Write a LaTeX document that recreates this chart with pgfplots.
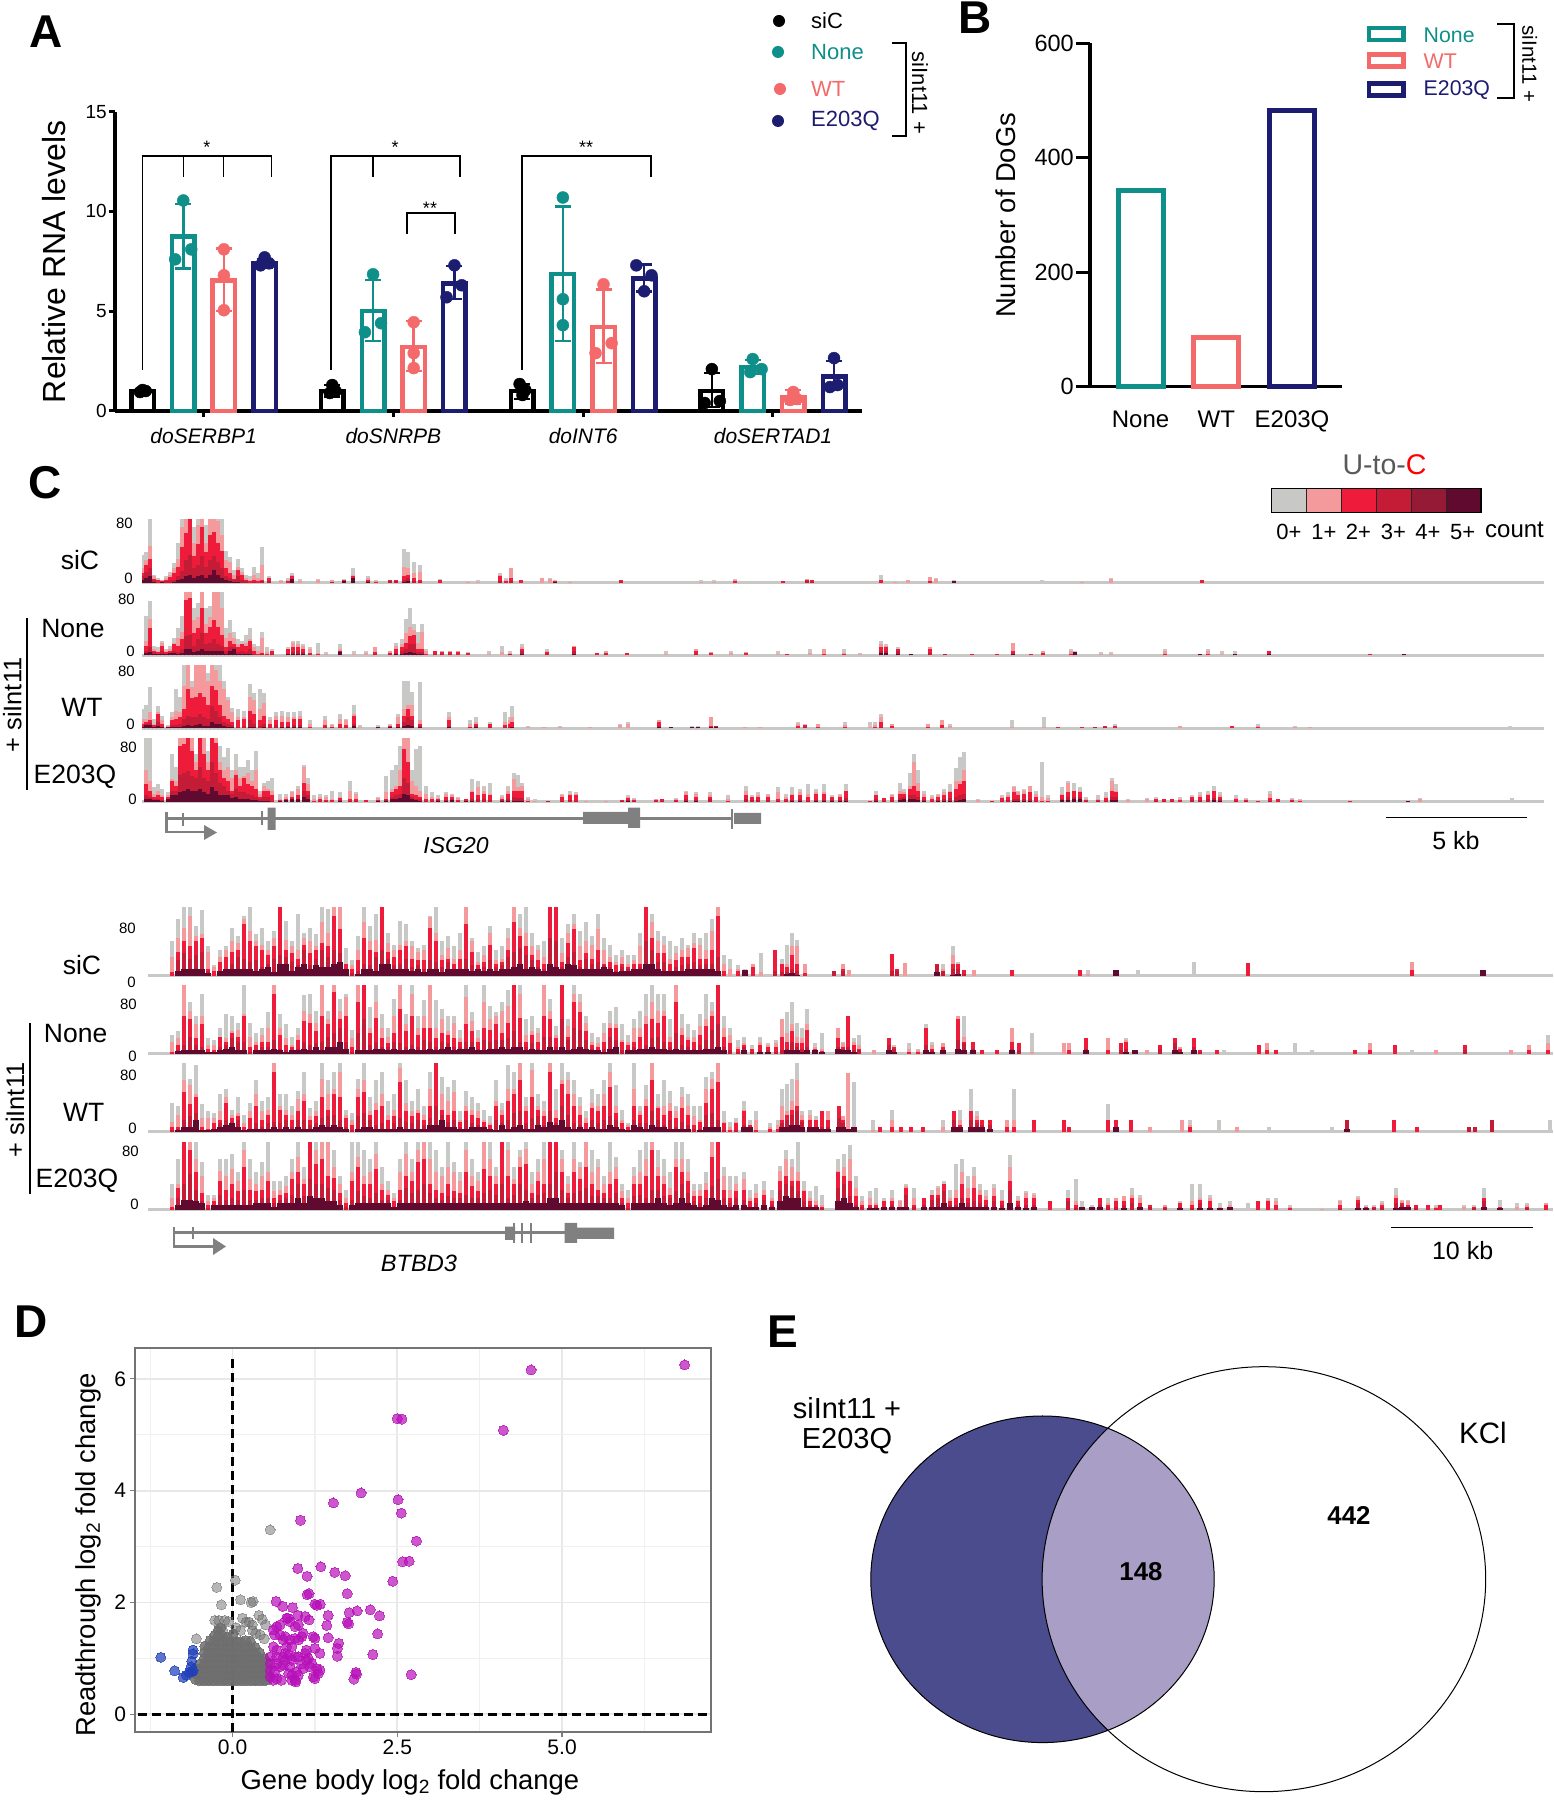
\documentclass[border=0pt]{standalone}
\usepackage{pgfplots}
\usepackage{pgfplotstable}
\usepackage{fontspec}
\setmainfont{Liberation Sans}
\pgfplotsset{compat=1.18,/pgf/number format/assume math mode=true}
\newcommand{\fs}[1]{\fontsize{#1}{#1}\selectfont}
\definecolor{cT}{HTML}{0F8F8A}
\definecolor{cS}{HTML}{F46A6A}
\definecolor{cN}{HTML}{1C1C70}
\definecolor{lG}{HTML}{C8C8C6}
\definecolor{lL}{HTML}{F59A9C}
\definecolor{lR}{HTML}{EE1C3A}
\definecolor{lM}{HTML}{C41C36}
\definecolor{lD}{HTML}{951A36}
\definecolor{lK}{HTML}{600A30}
\definecolor{gene}{HTML}{808080}
\definecolor{dMag}{HTML}{B60FB8}
\definecolor{dBlu}{HTML}{2040B8}
\definecolor{dGry}{HTML}{6E6E6E}
% ---- panel A bars
\pgfplotstableread{
x y ep em
-0.3216 1.0 0.1 0.1
0.6784 1.0 0.3 0.3
1.6784 1.0 0.35 0.4
2.6784 1.0 0.9 0.8
}\barK
\pgfplotstableread{
x y ep em
-0.1072 8.75 1.62 1.6
0.8928 5.0 1.56 1.5
1.8928 6.87 3.37 3.37
2.8928 2.2 0.35 0.35
}\barT
\pgfplotstableread{
x y ep em
0.1072 6.55 1.6 1.55
1.1072 3.2 1.3 1.2
2.1072 4.2 1.9 1.8
3.1072 0.7 0.35 0.35
}\barS
\pgfplotstableread{
x y ep em
0.3216 7.4 0.2 0.2
1.3216 6.4 0.87 0.8
2.3216 6.65 0.7 0.65
3.3216 1.72 0.78 0.62
}\barN
% ---- ISG20 tracks: x(px) then height reached by reads with 0+,1+,2+,3+,5+ U-to-C
\pgfplotstableread{
x g l r m k
142 35 18 12 8 3
146 38 28 22 14 6
150 80 46 30 18 8
154 10 8 5 3 1
158 6 4 3 0 0
162 4 3 2 1 1
166 8 6 4 2 0
170 14 10 7 3 0
174 25 18 12 4 1
178 50 30 20 8 3
182 80 70 45 15 5
186 80 80 62 28 8
190 80 80 80 35 10
194 70 50 34 18 6
198 80 72 48 22 8
202 80 80 70 34 10
206 72 50 38 20 6
210 80 80 60 28 10
214 80 80 64 34 16
218 80 78 50 26 10
222 80 60 40 18 6
226 40 28 18 8 3
230 32 26 12 6 2
234 16 10 5 3 1
238 30 20 16 8 1
242 18 14 10 4 0
246 10 6 4 2 0
250 8 4 2 0 0
254 20 10 4 1 0
258 12 6 2 0 0
262 45 22 4 2 0
269 8 6 6 2 0
281 4 2 0 0 0
288 6 3 2 0 0
292 12 10 8 5 5
300 5 2 0 0 0
318 5 4 0 0 0
332 4 3 1 1 0
344 5 3 3 2 2
353 18 10 8 6 6
368 8 6 4 2 1
376 3 2 1 0 0
390 4 3 3 2 0
396 4 3 3 2 0
404 42 20 8 4 1
408 38 18 10 6 2
414 26 12 6 2 0
420 22 14 4 1 0
440 5 4 3 0 0
468 2 1 0 0 0
478 3 1 0 0 0
500 12 10 8 2 0
506 6 4 2 0 0
511 18 18 6 2 0
521 4 4 3 0 0
542 6 6 0 0 0
550 6 5 0 0 0
555 3 2 2 1 1
570 2 1 0 0 0
621 4 4 4 1 0
667 1 0 0 0 0
701 3 1 0 0 0
714 3 1 0 0 0
735 5 3 2 0 0
746 2 0 0 0 0
783 2 2 2 0 0
807 5 5 3 2 0
812 4 4 3 1 0
881 10 4 3 0 0
895 2 1 0 0 0
908 3 3 0 0 0
930 7 7 2 0 0
936 6 5 0 0 0
954 3 2 2 2 2
1042 3 0 0 0 0
1082 1 1 0 0 0
1111 6 5 0 0 0
1202 3 3 3 0 0
}\isgA
\pgfplotstableread{
x g l r m k
146 50 18 12 6 3
150 68 46 34 10 4
154 12 8 6 4 2
158 10 6 4 2 1
162 18 16 12 5 1
166 8 6 4 2 1
170 12 8 6 3 3
174 22 16 14 6 3
178 34 22 12 4 1
182 50 30 20 8 3
186 80 80 70 24 8
190 80 80 72 26 8
194 60 44 28 12 4
198 66 48 34 20 6
202 80 80 60 28 8
206 60 40 28 14 5
210 62 48 36 16 5
214 80 80 44 20 6
218 80 80 36 14 5
222 80 60 26 12 5
226 34 22 10 6 2
230 44 28 18 10 6
234 30 22 14 10 8
238 20 14 10 4 1
242 18 14 14 5 1
246 26 16 12 4 1
250 34 20 18 8 1
254 14 10 6 2 0
258 12 6 2 0 0
262 30 22 3 1 0
267 10 4 2 0 0
272 8 6 6 1 0
288 10 8 8 2 1
293 18 16 10 4 1
298 18 14 10 6 1
303 14 12 8 4 1
310 10 8 3 1 0
318 16 3 1 0 0
326 4 2 0 0 0
340 14 8 6 5 4
354 6 2 0 0 0
366 6 3 0 0 0
375 10 10 4 1 0
390 6 5 3 1 0
396 16 12 8 3 1
402 20 14 10 5 2
406 46 28 16 8 3
410 60 36 24 14 4
414 40 32 26 14 3
418 30 16 8 4 1
422 40 30 8 4 1
426 8 6 2 0 0
435 6 5 5 1 0
442 6 5 4 1 0
450 6 5 4 1 0
458 6 5 4 0 0
468 4 3 3 0 0
489 5 2 0 0 0
502 12 4 0 0 0
510 5 3 2 1 0
522 14 10 8 5 2
547 8 5 4 1 0
574 12 12 10 5 1
597 3 3 3 0 0
606 6 6 3 1 0
627 3 3 3 0 0
666 5 2 0 0 0
696 8 8 5 1 0
711 4 4 3 0 0
731 6 3 0 0 0
746 4 4 3 0 0
778 5 2 0 0 0
787 2 2 2 0 0
810 8 3 0 0 0
824 8 8 2 0 0
844 8 3 1 0 0
860 3 2 0 0 0
881 18 14 10 6 3
886 14 12 10 6 3
898 10 8 8 5 1
911 2 2 2 2 2
930 10 10 8 3 0
945 2 2 2 1 0
972 1 1 1 0 0
997 2 2 2 0 0
1013 16 16 6 2 2
1031 2 2 2 0 0
1043 6 6 3 0 0
1071 8 6 2 0 0
1075 6 4 4 4 4
1101 4 2 0 0 0
1111 4 1 0 0 0
1165 8 5 2 0 0
1200 2 1 1 1 1
1208 8 6 1 0 0
1222 5 1 0 0 0
1235 6 2 2 2 2
1269 6 6 6 2 2
1370 1 1 1 0 0
1404 1 1 1 1 1
}\isgB
\pgfplotstableread{
x g l r m k
142 25 12 6 2 1
146 30 12 8 6 4
150 52 20 10 7 4
154 12 6 4 2 1
158 28 20 18 8 3
162 16 10 6 2 1
168 4 3 2 1 1
172 20 14 10 4 1
176 50 22 12 4 2
180 40 20 14 5 2
184 80 54 24 12 3
188 80 80 50 16 4
192 60 52 38 14 3
196 72 80 40 14 4
200 80 80 44 18 5
204 80 80 40 14 3
208 70 60 30 12 3
212 80 80 54 28 8
216 80 74 48 22 6
220 80 60 30 14 5
224 60 50 16 8 3
228 40 36 12 6 2
232 26 20 8 4 1
238 24 14 10 2 0
244 22 14 12 3 0
250 56 40 22 10 2
254 44 36 18 6 1
260 50 24 10 3 0
264 44 32 16 6 1
270 14 10 6 2 0
276 20 16 10 4 0
282 22 16 8 2 1
288 20 14 8 3 1
294 20 14 12 4 1
300 22 16 12 4 1
310 10 5 2 0 0
325 16 10 4 1 0
332 6 4 2 1 0
340 18 12 6 2 0
346 12 10 4 1 0
354 30 18 16 6 3
360 4 1 0 0 0
378 4 2 1 1 1
390 6 4 3 2 1
398 18 14 6 2 1
404 60 24 16 8 3
408 60 30 24 14 4
412 46 30 16 10 3
420 58 10 6 3 1
449 20 14 10 3 1
470 10 5 2 1 0
476 14 8 6 3 2
490 8 6 6 1 0
505 20 8 4 1 0
510 14 10 6 2 0
512 28 14 8 2 1
528 3 2 0 0 0
544 2 1 0 0 0
560 3 2 0 0 0
590 2 1 0 0 0
620 6 4 0 0 0
628 8 6 0 0 0
659 10 10 8 3 1
671 2 2 2 1 1
692 3 2 2 1 1
698 3 2 2 2 2
711 14 14 3 2 2
716 3 3 3 3 2
745 1 1 0 0 0
760 1 1 0 0 0
778 2 0 0 0 0
798 8 6 3 0 0
805 6 4 4 2 0
818 6 6 1 0 0
845 8 4 1 0 0
870 8 2 0 0 0
875 8 4 2 0 0
881 18 14 8 2 0
892 5 5 3 0 0
928 6 6 2 0 0
942 10 10 4 0 0
950 6 3 0 0 0
1012 10 2 0 0 0
1044 14 1 0 0 0
1058 2 1 1 0 0
1082 2 1 1 0 0
1095 2 2 2 1 0
1105 3 3 3 1 0
1115 6 3 3 0 0
1180 3 3 0 0 0
1232 3 3 3 0 0
1258 5 3 1 0 0
1295 3 2 0 0 0
1310 2 1 0 0 0
1510 3 0 0 0 0
}\isgC
\pgfplotstableread{
x g l r m k
146 80 40 22 8 3
150 80 26 14 6 3
154 18 10 6 3 2
158 22 14 8 4 2
162 16 8 6 2 1
168 12 8 6 4 3
172 60 28 26 14 8
176 44 26 20 14 8
180 80 80 70 34 12
184 80 80 72 36 14
188 80 80 80 38 16
192 80 80 64 32 14
196 60 50 40 30 14
200 80 80 80 44 16
204 80 80 60 30 12
208 64 50 40 26 10
212 80 80 80 50 18
216 80 80 74 36 14
220 70 50 40 24 8
224 56 40 30 20 8
228 68 44 26 14 8
232 40 30 14 10 5
236 60 40 34 16 6
240 44 30 20 12 4
244 44 32 30 12 4
248 52 36 22 10 3
252 40 26 20 8 2
256 64 40 16 6 2
260 14 10 6 3 1
264 24 20 14 6 1
268 26 16 14 6 1
272 30 14 8 1 0
280 10 4 2 1 1
286 10 6 4 2 2
292 14 12 6 3 3
298 20 16 8 4 3
304 46 44 24 14 6
308 30 22 14 8 4
314 8 3 1 0 0
320 10 6 4 1 0
326 8 6 2 1 0
332 14 4 2 0 0
340 12 6 5 2 1
350 26 14 3 1 0
356 12 10 4 1 0
366 2 2 2 0 0
378 6 5 2 1 1
386 32 12 4 2 1
392 40 16 12 6 3
396 46 20 16 8 4
400 70 40 20 10 5
404 80 80 66 30 10
408 80 80 50 24 8
412 40 26 10 6 3
416 66 20 8 4 2
420 70 14 6 3 1
426 20 10 4 1 0
432 12 6 3 1 0
438 8 5 3 2 1
446 12 10 6 2 1
452 10 8 6 3 2
458 6 5 2 1 0
466 4 3 3 1 1
472 28 14 12 3 1
478 26 18 8 3 0
484 20 14 10 3 0
490 24 10 8 2 0
502 8 6 3 2 1
508 20 14 10 3 1
514 36 28 14 6 1
518 34 18 14 5 1
522 24 20 14 5 1
528 6 3 1 0 0
535 3 1 0 0 0
548 2 1 1 1 0
562 10 8 6 1 0
570 14 10 8 2 0
576 12 10 8 1 0
586 2 1 0 0 0
606 2 1 0 0 0
622 2 2 2 1 0
628 8 6 5 2 1
634 5 4 2 1 0
656 4 4 2 1 0
662 4 3 3 1 0
676 5 4 2 1 0
686 14 12 8 3 1
696 12 10 6 2 1
710 12 8 6 3 0
728 8 3 1 0 0
746 20 14 8 3 0
752 8 6 6 2 0
758 12 8 6 2 0
768 10 8 6 2 0
778 18 12 4 1 0
786 10 6 4 1 0
792 18 10 8 2 1
800 16 12 8 3 1
808 22 10 6 1 0
816 16 12 10 2 1
824 22 12 10 2 1
832 8 6 6 2 1
840 10 8 6 2 1
846 22 14 14 5 1
870 1 1 1 0 0
876 14 8 8 3 1
884 5 5 5 1 0
892 10 8 6 2 0
900 24 14 10 5 2
904 16 12 10 6 3
910 36 20 16 8 3
914 60 50 20 8 4
918 40 24 14 6 2
924 14 10 6 2 1
932 8 6 4 1 0
938 10 8 6 2 1
944 16 12 8 3 1
950 22 14 12 5 1
956 42 26 16 6 1
960 56 26 22 8 2
964 62 40 26 10 3
970 1 0 0 0 0
978 3 2 0 0 0
992 2 1 1 0 0
1002 8 6 5 1 0
1008 12 8 6 2 0
1014 20 18 12 4 1
1018 14 12 8 3 1
1024 16 14 10 3 1
1030 20 20 12 3 1
1036 14 10 6 1 0
1042 50 6 1 0 0
1048 8 5 1 0 0
1062 18 10 8 4 2
1068 26 24 12 6 2
1074 24 14 14 6 3
1080 18 14 12 6 3
1086 6 4 2 1 0
1098 8 4 2 1 0
1106 12 6 5 1 0
1112 30 26 14 6 2
1116 22 14 12 6 2
1128 3 2 0 0 0
1147 5 3 0 0 0
1156 6 4 4 1 0
1164 4 3 3 1 0
1172 4 3 3 1 0
1180 6 3 2 0 0
1192 8 6 6 2 0
1200 12 8 6 2 0
1208 14 10 8 3 0
1214 20 14 14 5 2
1220 12 8 6 3 1
1236 8 5 3 1 0
1246 5 3 2 1 0
1258 2 1 1 0 0
1270 14 10 5 1 0
1278 3 3 3 0 0
1292 5 4 2 1 0
1300 3 2 1 0 0
1350 2 1 1 0 0
1360 2 0 0 0 0
1408 2 1 1 1 1
1420 5 3 0 0 0
1512 5 0 0 0 0
}\isgD
% ---- BTBD3 tracks
\pgfplotstableread{
x g l r m k
172 40 22 4 0 0
178 66 44 28 18 6
184 80 56 40 26 8
190 80 70 34 20 8
196 58 46 40 24 8
202 76 48 44 28 8
208 34 28 8 5 3
214 12 10 6 0 0
220 30 22 16 6 6
226 34 30 22 8 8
232 56 40 28 14 8
238 46 38 30 22 8
244 70 66 60 20 8
250 80 52 40 16 8
256 48 40 34 18 6
262 56 36 30 10 8
268 40 30 24 14 10
274 52 44 34 20 4
280 80 80 80 24 14
286 64 42 30 22 14
292 40 34 26 16 6
298 72 30 20 12 10
304 50 44 36 30 14
310 56 40 26 12 8
316 48 34 30 20 12
322 80 62 38 30 10
328 78 50 34 22 10
334 80 80 70 30 14
340 80 80 54 26 16
346 32 14 14 8 8
352 18 12 8 3 0
358 46 30 18 6 2
364 80 62 44 14 8
370 58 40 30 12 8
376 72 42 28 22 6
382 80 80 80 30 14
388 50 38 28 20 14
394 36 30 22 12 8
400 64 36 30 14 8
406 60 40 34 20 8
412 40 34 20 10 6
418 32 28 18 12 8
424 36 30 18 8 4
430 70 68 56 18 8
436 80 50 40 16 8
442 40 24 18 10 4
448 46 32 20 16 8
454 34 20 14 6 8
460 50 30 20 8 8
466 80 80 60 20 8
472 44 40 28 12 6
478 28 16 12 8 8
484 34 24 16 10 6
490 58 50 36 18 8
496 30 18 14 10 6
502 34 20 16 12 8
508 56 44 30 22 8
514 80 80 62 28 10
520 72 56 46 32 14
526 80 50 34 24 8
532 50 34 24 18 10
538 36 30 18 10 8
544 40 22 14 8 6
550 80 80 80 44 14
556 80 80 80 40 10
562 44 26 16 10 8
568 60 50 38 22 14
574 72 60 54 28 12
580 52 34 18 10 8
586 62 40 26 20 8
592 46 36 20 14 8
598 72 54 30 16 8
604 44 30 14 12 10
610 36 22 16 10 8
616 24 16 12 6 4
622 30 22 14 10 6
628 24 14 10 8 6
634 24 18 14 8 8
640 50 34 14 10 8
646 80 80 80 40 14
652 72 62 44 30 14
658 52 40 26 16 8
664 46 36 26 16 6
670 40 20 14 6 6
676 34 26 18 10 6
682 44 30 22 12 6
688 36 32 22 14 8
694 50 38 32 16 8
700 44 36 20 12 8
706 50 30 20 14 8
712 66 52 30 14 8
718 80 80 70 22 6
724 24 14 6 0 0
730 20 8 0 0 0
738 12 8 5 0 0
745 8 7 7 7 7
753 14 14 10 0 0
761 26 4 0 0 0
775 30 30 30 6 0
782 20 14 14 4 0
787 36 14 10 4 2
792 50 34 24 8 3
797 42 34 14 5 1
805 14 14 3 0 0
834 6 6 6 6 0
843 14 14 8 6 0
849 7 7 0 0 0
892 25 25 25 6 0
897 8 8 8 6 0
905 15 15 0 0 0
937 14 14 14 12 4
943 14 8 6 6 0
953 34 24 14 8 1
958 16 14 14 8 2
964 7 7 7 2 0
974 7 7 0 0 0
1012 7 7 7 0 0
1080 7 7 7 0 0
1088 7 2 0 0 0
1116 7 7 7 7 7
1138 7 0 0 0 0
1194 16 0 0 0 0
1248 15 15 15 0 0
1412 16 16 7 0 0
1483 7 7 7 7 7
}\btbA
\pgfplotstableread{
x g l r m k
172 22 14 2 0 0
178 26 18 10 4 3
184 80 80 44 10 4
190 60 50 40 20 4
196 44 34 18 10 4
202 70 44 34 8 4
208 18 10 6 2 2
214 16 10 4 2 2
220 30 20 20 8 4
226 46 18 14 10 6
232 44 26 24 18 8
238 36 28 20 14 4
244 80 46 44 14 4
250 36 20 8 2 0
256 24 14 10 4 4
262 30 22 14 8 4
268 48 30 14 8 4
274 80 80 70 16 6
280 46 30 22 6 4
286 34 18 10 4 2
292 20 10 8 4 4
298 30 22 16 6 4
304 68 50 38 14 6
310 70 46 36 10 4
316 50 36 26 12 8
322 80 80 44 14 4
328 50 40 34 20 8
334 80 80 72 24 8
340 64 50 40 30 14
346 70 66 44 14 6
352 28 18 8 2 0
358 80 80 60 24 4
364 80 80 80 40 4
370 54 30 24 10 4
376 80 60 42 14 6
382 46 30 18 8 6
388 30 20 12 8 4
394 64 44 24 14 6
400 80 80 52 12 4
406 46 34 26 8 4
412 80 70 44 10 6
418 44 30 22 8 4
424 62 44 30 16 4
430 80 80 30 14 6
436 62 30 18 8 4
442 52 40 24 14 6
448 44 26 22 12 8
454 44 36 18 8 4
460 28 18 14 8 6
466 80 66 34 14 6
472 48 38 26 14 8
478 28 18 14 6 4
484 80 60 30 16 4
490 56 40 28 14 6
496 48 44 34 16 6
502 60 50 24 16 8
508 74 56 36 18 6
514 80 80 80 26 8
520 80 70 42 14 8
526 40 22 14 8 4
532 44 26 22 12 6
538 30 24 14 6 4
544 80 80 44 20 4
550 64 50 40 20 8
556 32 22 18 8 4
562 80 80 80 40 8
568 40 32 20 16 4
574 80 70 60 30 6
580 70 60 48 28 8
586 44 36 26 16 6
592 24 14 10 6 4
598 20 12 8 4 4
604 36 24 14 6 2
610 50 36 30 20 6
616 54 34 30 16 8
622 34 16 14 4 0
628 22 14 10 6 4
634 40 30 14 8 4
640 50 30 20 6 6
646 70 44 34 10 6
652 80 60 40 18 8
658 70 50 36 20 6
664 70 50 44 14 6
670 40 20 14 8 4
676 80 80 60 24 6
682 46 30 22 10 4
688 34 20 16 8 4
694 28 20 14 6 4
700 46 32 22 10 4
706 70 40 32 16 6
712 60 50 44 28 6
718 80 80 80 34 8
724 44 30 20 8 4
730 30 22 12 4 0
738 16 8 6 2 0
744 20 12 10 8 4
752 10 6 6 2 0
760 20 14 10 4 2
768 12 10 8 4 2
776 16 12 8 2 0
782 40 40 20 4 0
787 48 24 14 6 4
792 60 34 26 14 4
797 36 20 12 8 4
802 30 18 12 6 2
807 52 34 28 8 4
815 12 8 6 4 4
822 24 6 3 2 2
838 30 30 18 8 6
843 14 12 8 6 4
848 44 44 44 8 4
854 18 14 10 4 2
859 22 10 6 4 0
874 4 4 0 0 0
889 18 18 18 10 4
894 10 8 8 6 2
909 12 6 2 0 0
918 6 4 2 0 0
926 34 30 30 10 4
932 14 10 6 4 2
943 12 12 8 4 4
958 44 44 40 16 6
964 44 20 14 12 4
973 14 14 14 5 4
982 4 4 4 0 0
997 4 4 4 0 0
1012 30 30 14 6 4
1019 12 12 12 4 0
1032 24 2 0 0 0
1064 12 12 0 0 0
1069 12 12 4 0 0
1086 18 18 18 6 4
1108 18 18 4 0 0
1121 12 12 12 4 0
1126 18 16 14 6 2
1135 4 4 4 4 4
1147 4 4 0 0 0
1160 10 10 10 6 0
1175 18 18 18 12 4
1180 8 8 6 4 2
1194 18 18 18 8 4
1200 4 4 4 2 0
1217 4 4 4 0 0
1224 4 0 0 0 0
1259 10 10 10 0 0
1267 12 12 4 0 0
1276 4 4 4 0 0
1295 12 0 0 0 0
1312 4 0 0 0 0
1355 4 4 4 0 0
1370 12 12 4 0 0
1395 10 10 10 0 0
1412 4 0 0 0 0
1436 4 4 0 0 0
1465 10 10 10 4 0
1511 4 4 0 0 0
1529 10 10 4 0 0
1548 22 12 4 0 0
}\btbB
\pgfplotstableread{
x g l r m k
172 34 12 6 2 0
178 30 20 6 4 2
184 80 60 46 14 6
190 62 54 32 18 6
196 78 44 40 22 14
202 32 16 6 2 2
208 24 16 4 2 2
214 22 16 10 4 4
220 44 24 14 10 6
226 50 40 34 14 8
232 26 20 16 12 10
238 40 22 18 14 6
244 20 10 6 2 2
250 34 24 16 4 4
256 60 44 30 10 4
262 36 24 14 6 4
268 40 26 20 10 4
274 80 80 70 12 6
280 44 30 26 10 4
286 44 26 20 14 6
292 30 20 14 6 4
298 48 38 24 14 6
304 70 44 36 14 4
310 28 18 14 8 4
316 36 24 18 10 6
322 80 62 40 16 8
328 60 44 26 18 6
334 70 50 44 20 8
340 80 70 40 14 6
346 26 20 16 6 4
352 22 14 8 2 0
358 62 50 40 18 4
364 80 60 46 22 6
370 40 24 20 14 6
376 60 34 26 8 4
382 70 44 30 10 4
388 36 20 14 4 4
394 44 26 18 10 4
400 80 74 58 16 6
406 60 34 24 12 4
412 36 24 18 10 4
418 50 26 22 14 4
424 30 20 14 8 4
430 70 50 30 16 8
436 80 80 80 30 8
442 64 44 26 20 14
448 52 36 20 12 6
454 60 46 24 14 6
460 24 14 12 6 4
466 48 30 24 14 4
472 40 26 20 10 6
478 34 24 16 8 6
484 26 14 12 6 6
490 18 10 8 4 4
496 60 36 30 14 2
502 34 26 20 10 8
508 78 50 36 14 4
514 70 50 44 22 6
520 80 80 60 24 8
526 40 30 24 10 4
532 80 72 40 16 4
538 44 30 26 18 8
544 36 24 18 8 6
550 80 80 70 24 12
556 50 26 16 10 8
562 80 60 56 30 14
568 70 60 44 20 6
574 60 44 30 10 4
580 40 30 20 8 6
586 24 16 10 4 4
592 50 34 28 14 6
598 44 30 24 10 4
604 60 44 30 14 4
610 80 70 52 18 8
616 54 30 22 14 6
622 26 14 10 4 4
628 10 8 6 2 2
634 80 50 30 14 8
640 30 24 20 10 6
646 54 38 30 10 4
652 80 80 60 24 8
658 44 30 28 14 6
664 60 30 20 8 6
670 48 34 24 14 4
676 30 24 16 6 4
682 52 40 28 12 4
688 44 30 20 8 4
694 30 18 8 4 0
700 30 14 12 4 2
706 64 50 34 20 6
712 70 62 50 22 6
718 80 80 58 14 6
724 24 12 10 2 0
730 12 6 2 0 0
736 16 12 10 2 0
744 36 26 24 8 6
750 14 8 8 6 6
756 24 14 2 0 0
770 10 6 4 0 0
778 14 8 4 0 0
782 50 30 14 10 6
787 56 24 20 14 6
792 62 36 26 20 8
797 80 60 30 24 8
802 24 20 14 12 6
810 26 20 14 6 6
816 18 14 14 6 6
822 24 24 24 6 4
828 24 24 14 6 4
839 30 30 30 16 6
843 18 18 14 10 6
848 68 68 4 4 4
854 58 6 6 6 6
873 14 2 0 0 0
880 6 6 6 0 0
892 26 14 6 0 0
901 6 6 6 0 0
911 6 6 6 0 0
923 6 6 6 0 0
943 14 6 0 0 0
954 24 24 24 14 6
960 26 14 8 6 6
971 50 24 24 14 6
977 24 18 14 10 6
982 14 14 14 8 6
990 14 14 14 8 4
1007 14 14 6 0 0
1014 50 14 6 0 0
1034 14 14 14 0 0
1064 14 14 14 0 0
1069 6 6 6 0 0
1108 32 14 14 0 0
1116 14 14 14 6 6
1131 14 14 14 0 0
1150 6 6 0 0 0
1182 14 14 0 0 0
1190 14 8 6 0 0
1219 14 0 0 0 0
1237 6 6 0 0 0
1269 6 0 0 0 0
1332 6 0 0 0 0
1347 14 14 14 14 4
1394 14 14 14 0 0
1417 6 6 6 0 0
1469 6 6 6 6 0
1475 6 6 6 6 0
1492 14 14 14 14 0
1550 14 0 0 0 0
}\btbC
\pgfplotstableread{
x g l r m k
172 30 14 4 0 0
178 60 30 26 14 6
184 80 80 80 30 12
190 80 80 70 42 12
196 80 60 44 24 10
202 56 40 20 10 8
208 18 10 6 2 0
214 18 14 10 6 6
220 60 46 34 18 6
226 60 40 24 12 6
232 66 48 30 14 6
238 44 34 22 12 6
244 80 70 50 24 6
250 60 36 24 12 6
256 44 30 22 12 8
262 56 40 24 14 8
268 80 44 34 14 8
274 34 22 14 8 4
280 34 24 18 12 8
286 40 28 20 14 8
292 60 44 36 18 8
298 80 62 44 30 14
304 50 36 30 16 8
310 80 80 80 36 16
316 80 70 54 30 14
322 80 80 60 30 14
328 80 80 40 26 10
334 70 50 38 24 10
340 40 30 20 12 6
346 24 14 8 4 0
352 80 44 34 12 6
358 80 62 50 22 8
364 70 40 30 16 8
370 60 44 30 14 8
376 80 66 48 20 8
382 50 30 24 12 8
388 34 24 18 12 8
394 20 14 10 4 4
400 60 44 24 12 8
406 80 66 40 26 8
412 60 44 34 20 8
418 80 70 56 24 8
424 80 80 60 30 8
430 80 60 30 20 8
436 70 44 24 14 8
442 50 40 20 12 8
448 80 50 30 16 8
454 56 44 22 14 8
460 44 34 20 14 8
466 80 70 44 18 8
472 60 40 28 14 8
478 44 34 22 14 8
484 80 80 48 20 8
490 80 60 40 24 8
496 50 40 30 18 8
502 80 80 80 30 8
508 80 70 40 14 8
514 50 36 30 18 8
520 70 62 50 30 8
526 80 72 54 24 10
532 44 30 20 14 8
538 60 44 34 18 8
544 80 60 30 20 8
550 80 80 80 30 14
556 80 80 80 44 14
562 70 60 44 24 8
568 40 30 20 14 8
574 80 60 44 20 8
580 56 50 36 22 8
586 80 80 50 26 8
592 70 44 30 16 8
598 60 50 24 16 8
604 40 30 20 14 8
610 80 44 30 14 8
616 62 50 36 20 8
622 30 22 14 8 6
628 24 14 8 2 0
634 50 40 30 16 8
640 70 44 30 18 8
646 80 60 40 14 8
652 80 80 70 24 8
658 70 50 40 24 14
664 60 40 30 16 8
670 44 26 18 14 6
676 80 60 50 22 8
682 80 60 44 30 14
688 60 44 34 20 8
694 30 22 16 10 6
700 30 24 16 8 4
706 44 32 24 14 6
712 80 80 62 28 14
718 80 80 80 36 12
724 50 40 24 14 6
730 40 24 14 8 4
736 40 30 22 14 6
744 44 36 24 12 6
750 24 14 10 4 4
756 30 20 14 8 4
764 34 24 18 12 6
772 24 14 10 6 4
780 52 46 34 24 10
786 70 60 40 30 16
792 60 50 34 28 14
798 80 44 34 22 14
804 34 24 22 10 4
810 22 14 10 6 4
816 28 10 6 4 4
822 18 6 4 2 0
838 60 46 44 26 10
844 66 50 40 30 14
850 76 60 34 16 8
856 40 26 16 6 4
862 16 10 6 4 0
870 22 14 6 4 2
876 26 8 6 4 2
884 14 10 10 4 4
892 24 14 10 6 4
900 12 10 4 4 4
906 30 28 26 18 4
914 26 14 6 4 0
924 14 14 14 6 4
932 24 18 18 12 4
938 28 26 18 14 4
944 34 30 30 22 8
950 24 14 10 6 4
956 54 24 14 6 4
962 60 44 30 14 8
968 40 26 14 8 4
974 50 40 26 10 4
980 30 24 18 8 4
986 24 16 12 6 4
994 30 26 16 10 4
1002 24 12 10 6 2
1010 64 50 34 24 8
1018 16 12 10 6 4
1026 22 20 14 6 2
1034 20 18 14 6 4
1050 10 10 10 0 0
1068 24 14 14 10 0
1076 36 10 6 2 0
1082 10 4 4 4 4
1092 6 4 4 4 4
1100 14 14 14 6 4
1108 14 8 6 4 0
1116 14 14 10 4 0
1124 16 16 10 6 2
1132 26 18 14 8 0
1140 18 14 8 4 4
1150 6 6 6 4 0
1165 6 6 4 2 0
1180 10 8 8 4 2
1192 30 10 6 2 0
1200 30 14 12 8 2
1210 18 14 10 4 2
1220 8 4 2 2 2
1230 10 6 4 4 4
1248 8 0 0 0 0
1258 10 10 10 0 0
1268 14 12 10 0 0
1276 14 10 6 0 0
1290 6 4 2 0 0
1300 2 0 0 0 0
1312 2 0 0 0 0
1322 2 1 0 0 0
1340 12 10 6 2 0
1350 2 0 0 0 0
1358 16 14 12 8 2
1366 6 4 4 2 2
1374 6 4 4 2 0
1382 10 8 6 4 0
1396 26 18 14 8 2
1402 12 10 8 6 4
1408 12 10 6 4 4
1416 6 6 6 2 0
1428 6 6 6 0 0
1436 6 4 2 0 0
1440 6 6 6 0 0
1464 6 4 0 0 0
1474 6 4 4 2 0
1484 26 14 14 10 4
1500 12 4 4 2 2
1517 8 4 0 0 0
1527 8 6 4 2 0
1546 8 8 6 0 0
}\btbD
% ---- track axis: table, xmin, xmax, baseline y, top y, label xshift, 0 yshift, 80 yshift
\newcommand{\track}[9]{%
\pgfmathsetmacro\tw{#3-#2}\pgfmathsetmacro\th{#4-#5}\pgfmathsetmacro\ty{1800-#4}\pgfmathsetmacro\tdy{#8-(#7)}%
\begin{axis}[at={(#2pt,\ty pt)},anchor=south west,scale only axis,width=\tw pt,height=\th pt,
 xmin=#2,xmax=#3,ymin=0,ymax=80,axis x line*=bottom,axis y line*=left,
 x axis line style={-,lG,line width=3pt},y axis line style={draw=none},
 xtick=\empty,ytick={0},extra y ticks={80},major tick length=0pt,
 yticklabel style={font=\fs{15},inner sep=0pt,xshift=#6pt,yshift=#7pt},
 extra y tick style={yticklabel style={yshift=\tdy pt}}]
 \trackLayers{#9}
\end{axis}}
\newlength{\wA}\newlength{\wB}\newlength{\wC}\newlength{\wD}
\newcommand{\trackLayers}[1]{%
 \addplot[ycomb,lG,line width=\wA,mark=none] table[x=x,y=g]{#1};
 \addplot[ycomb,lL,line width=\wA,mark=none] table[x=x,y=l]{#1};
 \addplot[ycomb,lR,line width=\wB,mark=none] table[x=x,y=r]{#1};
 \addplot[ycomb,lM,line width=\wC,mark=none] table[x=x,y=m]{#1};
 \addplot[ycomb,lK,line width=\wD,mark=none] table[x=x,y=k]{#1};}
\newcommand{\aser}[3]{%
 \addplot[ybar,bar width=22.5pt,bar shift=0pt,draw=#2,fill=white,line width=4.5pt,
  error bars/.cd,y dir=both,y explicit,error bar style={line width=2.5pt,#2},
  error mark options={rotate=90,#2,line width=2.5pt,mark size=8pt}]
  table[x=x,y=y,y error plus=ep,y error minus=em]{#1};
 \addplot[only marks,mark=*,mark size=6pt,#2] coordinates {#3};}
\begin{document}
\begin{tikzpicture}[x=1pt,y=1pt]
\path[use as bounding box] (0,0) rectangle (1554,1800);
% ================= A
\begin{axis}[at={(115pt,1389pt)},anchor=south west,scale only axis,width=747pt,height=299.3pt,
 xmin=-0.4668,xmax=3.469,ymin=0,ymax=15,axis lines=left,
 x axis line style={-,line width=4pt},y axis line style={-,line width=4pt},
 xtick={0,1,2,3},xticklabels={doSERBP1,doSNRPB,doINT6,doSERTAD1},
 ytick={0,5,10,15},tick align=outside,major tick length=6pt,tick style={black,line width=3pt},
 xticklabel style={font=\fs{21}\itshape,yshift=-8pt},yticklabel style={font=\fs{19},inner sep=2pt},
 ylabel={Relative RNA levels},y label style={font=\fs{32},at={(axis description cs:-0.0817,0.499)},anchor=center},clip=false]
\aser{\barK}{black}{(-0.335,0.95)(-0.3216,1.05)(-0.305,1.0)(0.665,0.9)(0.678,1.3)(0.695,1.0)(1.665,1.35)(1.68,0.8)(1.695,1.05)(2.64,0.4)(2.678,2.1)(2.72,0.5)}
\aser{\barT}{cT}{(-0.107,10.55)(-0.15,7.6)(-0.065,8.1)(0.85,3.95)(0.893,6.85)(0.935,4.4)(1.893,10.7)(1.893,5.6)(1.893,4.3)(2.893,2.6)(2.88,1.95)(2.94,2.1)}
\aser{\barS}{cS}{(0.107,8.1)(0.107,6.8)(0.107,5.05)(1.107,4.45)(1.107,2.9)(1.107,2.15)(2.107,6.35)(2.065,2.9)(2.15,3.4)(3.107,0.95)(3.09,0.55)(3.125,0.6)}
\aser{\barN}{cN}{(0.3216,7.7)(0.30,7.3)(0.345,7.4)(1.3216,7.3)(1.36,6.3)(1.28,5.7)(2.28,7.3)(2.36,6.8)(2.3216,6.0)(3.3216,2.65)(3.30,1.2)(3.34,1.3)}
\end{axis}
% ================= B
\begin{axis}[at={(1090pt,1413.3pt)},anchor=south west,scale only axis,width=252pt,height=343.4pt,
 xmin=-0.668,xmax=2.66,ymin=0,ymax=600,axis lines=left,
 x axis line style={-,line width=3.5pt},y axis line style={-,line width=3.5pt},
 xtick={0,1,2},xticklabels={None,WT,E203Q},ytick={0,200,400,600},tick align=outside,
 x tick style={draw=none},y tick style={black,line width=3pt},major tick length=14pt,
 xticklabel style={font=\fs{24},yshift=-7pt},yticklabel style={font=\fs{23.5},inner sep=2pt},
 ylabel={Number of DoGs},y label style={font=\fs{27.3},at={(axis description cs:-0.333,0.499)},anchor=center},clip=false]
\addplot[ybar,bar width=45pt,bar shift=0pt,draw=cT,fill=white,line width=5pt] coordinates {(0,343)};
\addplot[ybar,bar width=45pt,bar shift=0pt,draw=cS,fill=white,line width=5pt] coordinates {(1,86)};
\addplot[ybar,bar width=45pt,bar shift=0pt,draw=cN,fill=white,line width=5pt] coordinates {(2,482)};
\end{axis}
% ================= C tracks
\setlength{\wA}{4pt}\setlength{\wB}{4pt}\setlength{\wC}{4pt}\setlength{\wD}{4pt}
\track{\isgA}{142}{1544}{582.7}{519}{-9}{4.7}{-4}{\isgA}
\track{\isgB}{142}{1544}{655.3}{592}{-7}{3.6}{-7}{\isgB}
\track{\isgC}{142}{1544}{728.3}{665}{-7}{4.3}{-6.7}{\isgC}
\track{\isgD}{142}{1544}{801.7}{738}{-5}{2.4}{-9.3}{\isgD}
\setlength{\wA}{3.6pt}\setlength{\wB}{4.4pt}\setlength{\wC}{3.4pt}\setlength{\wD}{6pt}
\track{\btbA}{148}{1553}{975.7}{907}{-12}{-7}{-21}{\btbA}
\track{\btbB}{148}{1553}{1053.7}{985}{-11}{-2.3}{-19}{\btbB}
\track{\btbC}{148}{1553}{1132}{1063}{-11}{4}{-12.7}{\btbC}
\track{\btbD}{148}{1553}{1210}{1141.7}{-9}{6}{-10}{\btbD}
% ================= D
\begin{axis}[at={(134.6pt,68.3pt)},anchor=south west,scale only axis,width=575.9pt,height=383.4pt,
 xmin=-1.487,xmax=7.252,ymin=-0.311,ymax=6.547,
 axis line style={draw=gray!90!black,line width=2pt},
 xtick={0,2.5,5},ytick={0,2,4,6},minor xtick={-1.25,1.25,3.75,6.25},minor ytick={1,3,5},
 grid=both,major grid style={draw=black!9,line width=1.8pt},minor grid style={draw=black!6,line width=1.2pt},
 tick align=outside,major tick length=5pt,minor tick length=0pt,tick style={gray,line width=1.2pt},
 xticklabel style={font=\fs{21},/pgf/number format/fixed,/pgf/number format/fixed zerofill,/pgf/number format/precision=1},
 yticklabel style={font=\fs{21}},xtick pos=bottom,ytick pos=left,
 xlabel={Gene body log\textsubscript{2} fold change},x label style={font=\fs{27.4},at={(axis description cs:0.478,-0.131)},anchor=center},
 ylabel={Readthrough log\textsubscript{2} fold change},y label style={font=\fs{27.4},at={(axis description cs:-0.081,0.461)},anchor=center}]
% light grey outliers
\addplot[only marks,mark=*,mark size=5pt,color=dGry,mark options={solid,fill=dGry,draw=dGry,line width=0pt,opacity=.5}] coordinates {
(0.57,3.3)(0.04,2.4)(-0.24,2.27)(-0.17,1.96)(0.12,2.05)(0.28,2.0)(0.31,2.02)(-0.27,1.68)(-0.21,1.68)(-0.12,1.68)(-0.06,1.66)(0.15,1.72)(0.2,1.65)(0.25,1.65)(0.3,1.6)(0.4,1.77)(0.45,1.7)(0.5,1.6)(0.3,1.5)(0.35,1.45)(-0.55,1.35)(-0.15,1.5)(0.42,1.42)(0.48,1.35)(0.05,1.55)(0.12,1.5)};
% dense grey cloud
\addplot[only marks,mark=*,mark size=5pt,color=dGry,mark options={solid,fill=dGry,draw=dGry,line width=0pt,opacity=.85}] coordinates {
(-0.56,0.62)(-0.56,0.72)(-0.56,0.82)
(-0.5,0.6)(-0.5,0.7)(-0.5,0.8)(-0.5,0.9)
(-0.43,0.6)(-0.43,0.7)(-0.43,0.8)(-0.43,0.9)(-0.43,1.0)(-0.43,1.1)(-0.42,1.22)
(-0.36,0.6)(-0.36,0.7)(-0.36,0.8)(-0.36,0.9)(-0.36,1.0)(-0.36,1.1)(-0.36,1.2)(-0.34,1.32)
(-0.29,0.6)(-0.29,0.7)(-0.29,0.8)(-0.29,0.9)(-0.29,1.0)(-0.29,1.1)(-0.29,1.2)(-0.29,1.3)(-0.27,1.42)
(-0.22,0.6)(-0.22,0.7)(-0.22,0.8)(-0.22,0.9)(-0.22,1.0)(-0.22,1.1)(-0.22,1.2)(-0.22,1.3)(-0.22,1.4)(-0.22,1.5)
(-0.15,0.6)(-0.15,0.7)(-0.15,0.8)(-0.15,0.9)(-0.15,1.0)(-0.15,1.1)(-0.15,1.2)(-0.15,1.3)(-0.15,1.4)(-0.18,1.55)
(-0.08,0.6)(-0.08,0.7)(-0.08,0.8)(-0.08,0.9)(-0.08,1.0)(-0.08,1.1)(-0.08,1.2)(-0.08,1.3)(-0.08,1.38)
(-0.01,0.6)(-0.01,0.7)(-0.01,0.8)(-0.01,0.9)(-0.01,1.0)(-0.01,1.1)(-0.01,1.2)(-0.01,1.3)(0.01,1.44)
(0.06,0.6)(0.06,0.7)(0.06,0.8)(0.06,0.9)(0.06,1.0)(0.06,1.1)(0.06,1.2)(0.06,1.3)
(0.13,0.6)(0.13,0.7)(0.13,0.8)(0.13,0.9)(0.13,1.0)(0.13,1.1)(0.13,1.2)(0.12,1.3)
(0.2,0.6)(0.2,0.7)(0.2,0.8)(0.2,0.9)(0.2,1.0)(0.2,1.1)(0.2,1.2)(0.2,1.32)
(0.27,0.6)(0.27,0.7)(0.27,0.8)(0.27,0.9)(0.27,1.0)(0.27,1.1)(0.27,1.2)(0.27,1.3)
(0.34,0.6)(0.34,0.7)(0.34,0.8)(0.34,0.9)(0.34,1.0)(0.34,1.1)(0.34,1.2)
(0.41,0.6)(0.41,0.7)(0.41,0.8)(0.41,0.9)(0.41,1.0)(0.41,1.1)
(0.48,0.6)(0.48,0.7)(0.48,0.8)(0.48,0.9)(0.48,1.0)
(0.53,0.62)(0.53,0.72)(0.53,0.82)(0.53,0.92)};
% blue
\addplot[only marks,mark=*,mark size=5pt,color=dBlu,mark options={solid,fill=dBlu,draw=dBlu,line width=0pt,opacity=.72}] coordinates {
(-1.09,1.02)(-0.88,0.78)(-0.75,0.66)(-0.7,0.7)(-0.66,0.75)(-0.62,0.76)(-0.6,0.78)(-0.63,0.85)(-0.62,0.95)(-0.6,1.08)(-0.6,1.15)};
% magenta
\addplot[only marks,mark=*,mark size=5pt,color=dMag,mark options={solid,fill=dMag,draw=dMag,line width=0pt,opacity=.7}] coordinates {
(6.86,6.25)(4.53,6.16)(4.11,5.08)(2.5,5.29)(2.57,5.28)(1.95,3.96)(1.53,3.78)(2.51,3.84)(2.56,3.6)(1.03,3.47)(2.79,3.1)(2.58,2.73)(2.68,2.74)(0.99,2.61)(1.34,2.64)(1.55,2.54)(1.71,2.48)(1.13,2.47)(2.43,2.38)(1.13,2.14)(1.16,2.16)(1.74,2.16)(0.66,2.02)(0.76,1.93)(0.91,1.91)(1.25,1.97)(1.33,1.97)(1.28,1.95)(2.09,1.87)(1.89,1.85)(1.77,1.82)(2.23,1.76)(1.45,1.77)(0.99,1.77)(1.1,1.75)(1.16,1.69)(0.84,1.72)(1.74,1.65)(1.76,1.62)(1.43,1.59)(2.2,1.44)(1.45,1.37)(1.61,1.27)(1.59,1.18)(1.59,1.04)(2.13,1.07)(1.87,0.75)(1.88,0.72)(1.84,0.63)(2.71,0.71)
(0.67,1.57)(0.62,1.51)(0.72,1.6)(0.82,1.72)(0.87,1.66)(0.95,1.57)(0.997,1.6)(0.64,1.42)(0.72,1.42)(0.8,1.39)(0.87,1.33)(0.95,1.36)(1.07,1.45)(1.05,1.39)(1.25,1.36)(1.225,1.39)(0.62,1.21)(0.67,1.15)(0.82,1.21)(0.9,1.21)(0.997,1.33)(0.57,1.03)(0.67,1.03)(0.77,1.03)(0.85,1.06)(0.95,1.03)(1.12,1.15)(1.1,1.09)(1.25,1.18)(1.326,1.09)(0.57,0.91)(0.67,0.91)(0.77,0.88)(0.9,0.97)(0.997,1.03)(1.12,0.97)(1.2,0.91)(0.57,0.79)(0.64,0.76)(0.72,0.85)(0.85,0.73)(0.97,0.76)(1.07,0.82)(1.17,0.85)(1.276,0.82)(1.326,0.79)(0.57,0.67)(0.67,0.64)(0.74,0.61)(0.9,0.7)(0.95,0.61)(0.997,0.7)(1.225,0.67)(1.3,0.73)(0.62,0.61)(0.96,0.58)(0.9,0.61)(0.8,1.09)(0.77,1.33)(1.25,0.64)(0.87,0.85)(0.8,0.97)(1.05,0.9)(1.15,1.0)};
\addplot[black,line width=2.4pt,dash pattern=on 9pt off 5pt] coordinates {(0,-0.311)(0,6.41)};
\addplot[black,line width=2.4pt,dash pattern=on 9pt off 5pt] coordinates {(-1.44,0)(7.2,0)};
\end{axis}
% ================= E
\begin{axis}[at={(860pt,0pt)},anchor=south west,scale only axis,width=640pt,height=440pt,
 xmin=860,xmax=1500,ymin=0,ymax=440,hide axis,clip=false]
\path[fill={rgb,255:red,75;green,76;blue,141}] (axis cs:1042.5,220.7) ellipse [x radius=171.7,y radius=163.3];
\begin{scope}
\clip (axis cs:1042.5,220.7) ellipse [x radius=171.7,y radius=163.3];
\path[fill={rgb,255:red,169;green,159;blue,198}] (axis cs:1263.9,220.8) ellipse [x radius=221.8,y radius=212.5];
\end{scope}
\draw[black,line width=1pt] (axis cs:1042.5,220.7) ellipse [x radius=171.7,y radius=163.3];
\draw[black,line width=1pt] (axis cs:1263.9,220.8) ellipse [x radius=221.8,y radius=212.5];
\end{axis}
% ================= annotations (px coordinates, y downwards)
\begin{scope}[x=1pt,y=-1pt,yshift=1800pt]
\foreach \t/\x/\y in {A/46/32,B/975/18,C/45/483,D/31/1322,E/783/1332}
  \node[font=\fs{46}\bfseries] at (\x,\y) {\t};
% A legend and brackets
\foreach \c/\y/\xx in {black/21/779,cT/52/778,cS/89/780,cN/121/778}
  \fill[\c] (\xx,\y) circle (6);
\node[font=\fs{22},anchor=west,inner sep=0] at (811,21) {siC};
\node[font=\fs{22},anchor=west,inner sep=0,text=cT] at (811,52) {None};
\node[font=\fs{22},anchor=west,inner sep=0,text=cS] at (811,89) {WT};
\node[font=\fs{22},anchor=west,inner sep=0,text=cN] at (811,121) {E203Q};
\draw[line width=1.6pt] (892,43)--(906,43)--(906,136)--(892,136);
\node[font=\fs{22},rotate=-90] at (920,93) {siInt11 +};
\draw[line width=1.5pt] (142.6,370)--(142.6,156)--(271.7,156)--(271.7,176.7);
\draw[line width=1.5pt] (183.6,156)--(183.6,176.7) (223.4,156)--(223.4,176.7);
\draw[line width=1.5pt] (331,370)--(331,156)--(460,156)--(460,176.7) (373,156)--(373,176.7);
\draw[line width=1.5pt] (522,370)--(522,156)--(651,156)--(651,176.7);
\draw[line width=1.5pt] (407,234)--(407,213)--(455,213)--(455,234);
\foreach \t/\x/\y in {*/207/147,*/395/147,**/586/147,**/430/208}
  \node[font=\fs{18}] at (\x,\y) {\t};
% B legend
\foreach \c/\a/\b in {cT/28/40,cS/54.5/66.5,cN/83.5/95.5}
  \draw[\c,line width=4.5pt] (1369,\a) rectangle (1403.5,\b);
\node[font=\fs{21.3},anchor=west,inner sep=0,text=cT] at (1423.5,35) {None};
\node[font=\fs{21.3},anchor=west,inner sep=0,text=cS] at (1423.5,61) {WT};
\node[font=\fs{21.3},anchor=west,inner sep=0,text=cN] at (1423.5,90) {E203Q};
\draw[line width=1.6pt] (1497,24)--(1514,24)--(1514,98)--(1497,98);
\node[font=\fs{20.5},rotate=-90] at (1529.6,64) {siInt11 +};
% colour scale
\node[font=\fs{28.5},text=black!65] at (1384.6,465) {U-to-\textcolor{red}{C}};
\foreach \c/\i in {lG/0,lL/1,lR/2,lM/3,lD/4,lK/5}
  \fill[\c] ({1271.6+34.9*\i},488.7) rectangle ({1271.6+34.9*(\i+1)},512.3);
\foreach \i in {0,...,6} \draw[black!85,line width=1pt] ({1271.6+34.9*\i},488.7)--({1271.6+34.9*\i},512.3);
\draw[black,line width=1.4pt] (1271.6,488.7) rectangle (1481,512.3);
\foreach \t/\x in {0+/1289,1+/1324,2+/1358.5,3+/1393.5,4+/1428,5+/1462.6}
  \node[font=\fs{22}] at (\x,531.7) {\t};
\node[font=\fs{24},anchor=west,inner sep=0] at (1485,530) {count};
% C labels ISG20
\foreach \t/\x/\y in {siC/80/560,None/73/629,WT/82/707,E203Q/75/776.7}
  \node[font=\fs{26.5}] at (\x,\y) {\t};
\draw[line width=2pt] (27.4,618)--(27.4,790);
\node[font=\fs{25.4},rotate=90] at (12.4,705) {+ siInt11};
\draw[gene,line width=3pt] (166.6,818.3)--(732,818.3) (734,818.3)--(745,818.3);
\draw[gene,line width=1.5pt] (183,813)--(183,825.7) (262,811)--(262,825);
\draw[gene,line width=2.5pt] (166.6,812)--(166.6,832)--(205,832);
\fill[gene] (204,825)--(217,832.5)--(204,840)--cycle;
\fill[gene] (267.6,807.7) rectangle (275.5,830) (583,812) rectangle (628,824) (628,807.7) rectangle (640,828) (734,813) rectangle (761,824);
\fill[gene] (731,809) rectangle (733,829);
\node[font=\fs{23}\itshape] at (456,846) {ISG20};
\draw[line width=1.6pt] (1386,817.7)--(1527,817.7);
\node[font=\fs{25}] at (1456,840.7) {5 kb};
% C labels BTBD3
\foreach \t/\x/\y in {siC/82/965,None/75.6/1034,WT/83.6/1112,E203Q/77/1180.7}
  \node[font=\fs{26.5}] at (\x,\y) {\t};
\draw[line width=2pt] (30,1022.7)--(30,1194);
\node[font=\fs{25.4},rotate=90] at (15,1110) {+ siInt11};
\draw[gene,line width=3pt] (174,1233)--(570,1233);
\draw[gene,line width=1.5pt] (193,1226.7)--(193,1239);
\draw[gene,line width=2.5pt] (174,1226.7)--(174,1246.7)--(214,1246.7);
\fill[gene] (213,1238)--(226,1246.5)--(213,1255)--cycle;
\fill[gene] (505,1226.7) rectangle (515,1240) (564.6,1223) rectangle (577,1243) (577,1227.7) rectangle (614,1239);
\draw[gene,line width=1.8pt] (514,1223)--(514,1243) (522,1223)--(522,1243) (531,1223)--(531,1243);
\node[font=\fs{23.6}\itshape] at (419,1263) {BTBD3};
\draw[line width=1.6pt] (1391,1227.7)--(1533,1227.7);
\node[font=\fs{25}] at (1462.6,1251) {10 kb};
% E labels
\node[font=\fs{29}] at (847,1408) {siInt11 +};
\node[font=\fs{29}] at (847,1441) {E203Q};
\node[font=\fs{29.5}] at (1483,1433) {KCl};
\node[font=\fs{25.8}\bfseries] at (1349,1515.7) {442};
\node[font=\fs{25.8}\bfseries] at (1141,1572) {148};
\end{scope}
\end{tikzpicture}
\end{document}
